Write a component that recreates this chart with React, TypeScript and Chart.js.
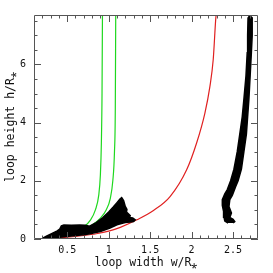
import React, { useEffect, useRef } from 'react';
import { Chart, registerables } from 'chart.js';

Chart.register(...registerables);

// Axis ranges and ticks
const X_MIN = 0.1;
const X_MAX = 2.8;
const Y_MIN = 0;
const Y_MAX = 7.7;
const X_MAJOR = [0.5, 1, 1.5, 2, 2.5];
const Y_MAJOR = [0, 2, 4, 6];
const X_MINOR = [0.2, 0.3, 0.4, 0.6, 0.7, 0.8, 0.9, 1.1, 1.2, 1.3, 1.4, 1.6, 1.7, 1.8, 1.9, 2.1, 2.2, 2.3, 2.4, 2.6, 2.7];
const Y_MINOR = [0.5, 1, 1.5, 2.5, 3, 3.5, 4.5, 5, 5.5, 6.5, 7, 7.5];

const X_TITLE = 'loop width w/R⁎';
const Y_TITLE = 'loop height h/R⁎';

// Curves [w, h]
const GREEN_A: [number, number][] = [
  [0.2, 0], [0.3, 0.03], [0.4, 0.08], [0.5, 0.14], [0.6, 0.25], [0.7, 0.42], [0.78, 0.65],
  [0.84, 1.0], [0.88, 1.5], [0.9, 2.2], [0.912, 3.3], [0.92, 5.0], [0.925, 7.7],
];
const GREEN_B: [number, number][] = [
  [0.2, 0], [0.3, 0.03], [0.4, 0.07], [0.5, 0.12], [0.6, 0.2], [0.7, 0.32], [0.8, 0.48],
  [0.9, 0.72], [0.97, 1.0], [1.02, 1.4], [1.05, 2.0], [1.07, 3.0], [1.08, 4.5], [1.085, 7.7],
];
const RED: [number, number][] = [
  [0.25, 0], [0.34, 0.03], [0.5, 0.06], [0.7, 0.12], [0.85, 0.18], [1.0, 0.27], [1.14, 0.4],
  [1.34, 0.66], [1.54, 0.98], [1.74, 1.46], [1.94, 2.38], [2.06, 3.3], [2.16, 4.33],
  [2.22, 5.24], [2.26, 6.16], [2.29, 7.54], [2.295, 7.7],
];

// Scattered black point clouds (outlines)
const BLOB_LEFT: [number, number][] = [
  [0.2, 0.02], [0.25, 0.1], [0.3, 0.17], [0.38, 0.28], [0.41, 0.34], [0.43, 0.45], [0.46, 0.48],
  [0.55, 0.47], [0.65, 0.48], [0.72, 0.47], [0.77, 0.44], [0.85, 0.56], [0.93, 0.74], [1.0, 0.93],
  [1.055, 1.1], [1.1, 1.25], [1.136, 1.37], [1.157, 1.42], [1.18, 1.32], [1.2, 1.12], [1.22, 1.02],
  [1.215, 0.93], [1.24, 0.86], [1.26, 0.8], [1.25, 0.74], [1.29, 0.72], [1.32, 0.66], [1.3, 0.6],
  [1.257, 0.58], [1.2, 0.57], [1.176, 0.55], [1.1, 0.49], [1.016, 0.38], [0.9, 0.26],
  [0.775, 0.18], [0.7, 0.15], [0.46, 0.08], [0.26, 0.01], [0.2, 0.0],
];
const BAND_RIGHT: [number, number][] = [
  [2.44, 0.55], [2.4, 0.62], [2.39, 0.75], [2.385, 0.95], [2.37, 1.15], [2.37, 1.35], [2.4, 1.55],
  [2.43, 1.7], [2.47, 2.0], [2.51, 2.4], [2.55, 3.0], [2.58, 3.6], [2.61, 4.2], [2.63, 4.8],
  [2.655, 5.6], [2.67, 6.4], [2.675, 7.0], [2.68, 7.6], [2.7, 7.68], [2.73, 7.6], [2.73, 7.0],
  [2.72, 6.4], [2.705, 5.6], [2.69, 4.8], [2.675, 4.2], [2.66, 3.6], [2.63, 3.0], [2.6, 2.4],
  [2.56, 2.0], [2.53, 1.8], [2.49, 1.5], [2.46, 1.35], [2.45, 1.12], [2.48, 0.89], [2.46, 0.74],
  [2.5, 0.68], [2.52, 0.6], [2.5, 0.55],
];

const toXY = (arr: [number, number][]) => arr.map(([x, y]) => ({ x, y }));

const FRAME = '#555';
const FONT = 'DejaVu Sans Mono';

const framePlugin = {
  id: 'frameTicks',
  afterDatasetsDraw(chart: any) {
    const { ctx, chartArea, scales } = chart;
    const { left, right, top, bottom } = chartArea;
    const xs = scales.x;
    const ys = scales.y;
    ctx.save();
    ctx.strokeStyle = FRAME;
    ctx.lineWidth = 1;
    ctx.beginPath();
    ctx.rect(left + 0.5, top + 0.5, right - left - 1, bottom - top - 1);
    ctx.stroke();
    const tickX = (v: number, len: number) => {
      const p = Math.round(xs.getPixelForValue(v)) + 0.5;
      ctx.moveTo(p, bottom);
      ctx.lineTo(p, bottom - len);
      ctx.moveTo(p, top);
      ctx.lineTo(p, top + len);
    };
    const tickY = (v: number, len: number) => {
      const p = Math.round(ys.getPixelForValue(v)) + 0.5;
      ctx.moveTo(left, p);
      ctx.lineTo(left + len, p);
      ctx.moveTo(right, p);
      ctx.lineTo(right - len, p);
    };
    ctx.beginPath();
    X_MAJOR.forEach((v) => tickX(v, 7));
    X_MINOR.forEach((v) => tickX(v, 3.5));
    Y_MAJOR.forEach((v) => tickY(v, 7));
    Y_MINOR.forEach((v) => tickY(v, 3.5));
    ctx.stroke();
    ctx.restore();
  },
};

export default function App() {
  const ref = useRef<HTMLCanvasElement | null>(null);
  useEffect(() => {
    document.body.style.margin = '0';
    if (!ref.current) return;
    const line = (data: [number, number][], color: string) => ({
      data: toXY(data),
      borderColor: color,
      borderWidth: 1.2,
      pointRadius: 0,
      showLine: true,
      fill: false,
      cubicInterpolationMode: 'monotone' as const,
    });
    const shape = (data: [number, number][]) => ({
      data: toXY(data),
      borderColor: '#000',
      backgroundColor: '#000',
      borderWidth: 1.5,
      pointRadius: 0,
      showLine: true,
      fill: 'shape',
      tension: 0,
    });
    const chart = new Chart(ref.current, {
      type: 'scatter',
      data: {
        datasets: [
          shape(BLOB_LEFT),
          shape(BAND_RIGHT),
          line(GREEN_A, '#1ed81e'),
          line(GREEN_B, '#1ed81e'),
          line(RED, '#e02020'),
        ] as any,
      },
      options: {
        animation: false,
        responsive: false,
        maintainAspectRatio: false,
        events: [],
        layout: { padding: { top: 15, right: 15, left: 0, bottom: 0 } },
        plugins: { legend: { display: false }, tooltip: { enabled: false } },
        scales: {
          x: {
            type: 'linear',
            min: X_MIN,
            max: X_MAX,
            grid: { display: false, drawTicks: false },
            border: { display: false },
            afterBuildTicks: (s: any) => {
              s.ticks = X_MAJOR.map((v) => ({ value: v }));
            },
            afterFit: (s: any) => {
              s.height = 34;
            },
            ticks: {
              padding: 5,
              maxRotation: 0,
              autoSkip: false,
              color: '#111',
              font: { family: FONT, size: 10 },
              callback: (v: any) => String(v),
            },
            title: {
              display: true,
              text: X_TITLE,
              color: '#111',
              font: { family: FONT, size: 11.5 },
              padding: { top: 0, bottom: 3 },
            },
          },
          y: {
            type: 'linear',
            min: Y_MIN,
            max: Y_MAX,
            grid: { display: false, drawTicks: false },
            border: { display: false },
            afterBuildTicks: (s: any) => {
              s.ticks = Y_MAJOR.map((v) => ({ value: v }));
            },
            afterFit: (s: any) => {
              s.width = 34;
            },
            ticks: {
              padding: 8,
              autoSkip: false,
              color: '#111',
              font: { family: FONT, size: 10 },
              callback: (v: any) => String(v),
            },
            title: {
              display: true,
              text: Y_TITLE,
              color: '#111',
              font: { family: FONT, size: 11.5 },
              padding: { top: 4, bottom: 0 },
            },
          },
        },
      },
      plugins: [framePlugin],
    });
    return () => chart.destroy();
  }, []);
  return (
    <div style={{ position: 'absolute', left: 0, top: 0, width: 273, height: 273, background: '#fff' }}>
      <canvas ref={ref} width={273} height={273} style={{ width: 273, height: 273 }} />
    </div>
  );
}
